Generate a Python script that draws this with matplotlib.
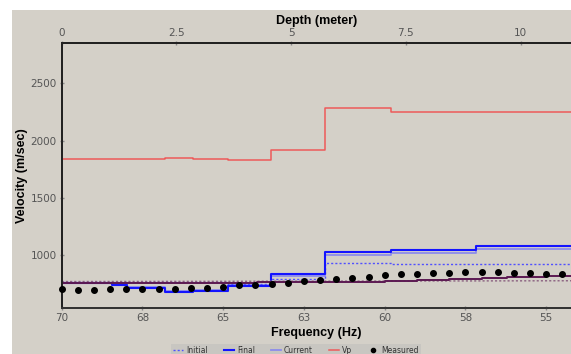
import matplotlib
matplotlib.use("Agg")
import matplotlib.pyplot as plt
from matplotlib.patches import Rectangle
from matplotlib.lines import Line2D

# ---------------- data ----------------
# layer boundaries (depth, m) and layer values (m/sec)
layer_tops = [0.0, 1.09, 1.42, 2.26, 2.87, 3.63, 4.56, 5.73, 7.18, 9.03]
depth_end = 11.10
vp_vals = [1840, 1840, 1840, 1848, 1840, 1829, 1919, 2285, 2250, 2250]
final_vals = [758, 738, 715, 680, 688, 727, 834, 1023, 1044, 1081]
current_vals = [752, 745, 720, 688, 694, 742, 817, 1000, 1017, 1050]
initial_vals = [765, 765, 765, 765, 765, 750, 790, 933, 920, 920]

# measured dispersion (frequency Hz, velocity m/sec)
meas_freq = [70.0, 69.5, 69.0, 68.5, 68.0, 67.5, 67.0, 66.5, 66.0, 65.5, 65.0,
             64.5, 64.0, 63.5, 63.0, 62.5, 62.0, 61.5, 61.0, 60.5, 60.0, 59.5,
             59.0, 58.5, 58.0, 57.5, 57.0, 56.5, 56.0, 55.5, 55.0, 54.5]
meas_vel = [701, 692, 692, 701, 701, 701, 706, 703, 712, 715, 723,
            734, 738, 750, 758, 771, 779, 791, 802, 811, 823, 832,
            837, 843, 843, 849, 849, 849, 840, 840, 834, 834]

# theoretical curves (frequency, velocity)
fit_freq = [70.0, 63.96, 60.0, 59.0, 58.0, 57.0, 56.2, 55.0, 54.23]
fit_vel = [753, 766, 776, 782, 788, 796, 805, 815, 815]
init_curve_freq = [70.0, 54.23]
init_curve_vel = [768, 775]

freq_lim = (70.0, 54.23)
vel_lim = (537, 2852)
freq_ticks = [70, 67.5, 65, 62.5, 60, 57.5, 55]
freq_labels = ["70", "68", "65", "63", "60", "58", "55"]
depth_ticks = [0, 2.5, 5, 7.5, 10]
depth_labels = ["0", "2.5", "5", "7.5", "10"]
vel_ticks = [1000, 1500, 2000, 2500]

# ---------------- figure ----------------
W, H = 571, 354
fig = plt.figure(figsize=(W / 100, H / 100), dpi=100)
fig.patch.set_facecolor("white")
bg = "#d4d0c8"
fig.patches.append(Rectangle((12 / W, 0), 1 - 12 / W, (H - 10) / H,
                             transform=fig.transFigure, facecolor=bg,
                             edgecolor="none", zorder=-10))

L, R, T, B = 61.7, 571, 43, 308
ax = fig.add_axes([L / W, 1 - B / H, (R - L) / W, (B - T) / H])
axd = ax.twiny()

tick_col = "#555555"
font = "DejaVu Sans"
bold_font = "Liberation Sans"

# frequency axis (bottom)
ax.set_xlim(*freq_lim)
ax.set_ylim(*vel_lim)
ax.set_xticks(freq_ticks)
ax.set_xticklabels(freq_labels)
ax.set_yticks(vel_ticks)
ax.set_yticklabels([str(v) for v in vel_ticks])
ax.tick_params(axis="both", colors="#888888", labelcolor=tick_col,
               labelsize=7.5, length=3, width=1, direction="inout", pad=2)
ax.set_xlabel("Frequency (Hz)", fontsize=9, fontweight="bold",
              family=bold_font, labelpad=3)
ax.set_ylabel("Velocity (m/sec)", fontsize=9, fontweight="bold",
              family=bold_font, labelpad=2)

# depth axis (top)
axd.set_xlim(0, depth_end)
axd.set_xticks(depth_ticks)
axd.set_xticklabels(depth_labels)
axd.tick_params(axis="x", colors="#888888", labelcolor=tick_col,
                labelsize=7.5, length=3, width=1, direction="inout", pad=2)
axd.set_xlabel("Depth (meter)", fontsize=9, fontweight="bold",
               family=bold_font, labelpad=3)

for a in (ax, axd):
    a.spines["right"].set_visible(False)
    a.spines["left"].set_color("#222222")
    a.spines["left"].set_linewidth(1.4)
    a.spines["top"].set_color("#222222")
    a.spines["top"].set_linewidth(1.4)
    a.spines["bottom"].set_color("#333333")
    a.spines["bottom"].set_linewidth(1.4)


def steps(vals):
    xs = list(layer_tops) + [depth_end]
    ys = list(vals) + [vals[-1]]
    return xs, ys


c_vp = "#ee5a5a"
c_final = "#1414ff"
c_current = "#8c8cec"
c_initial = "#5050ff"
c_fit = "#5c1a52"
c_fit_init = "#8a6080"

x, y = steps(current_vals)
axd.plot(x, y, drawstyle="steps-post", color=c_current, lw=1.3, zorder=3)
x, y = steps(initial_vals)
axd.plot(x, y, drawstyle="steps-post", color=c_initial, lw=1.0,
         linestyle=(0, (1.5, 1.5)), zorder=3)
x, y = steps(final_vals)
axd.plot(x, y, drawstyle="steps-post", color=c_final, lw=1.5, zorder=4)
x, y = steps(vp_vals)
axd.plot(x, y, drawstyle="steps-post", color=c_vp, lw=1.1, zorder=3)

ax.plot(init_curve_freq, init_curve_vel, color=c_fit_init, lw=1.0,
        linestyle=(0, (1.5, 1.5)), zorder=2)
ax.plot(fit_freq, fit_vel, drawstyle="steps-post", color=c_fit, lw=1.4,
        zorder=2)
ax.plot(meas_freq, meas_vel, linestyle="none", marker="o", ms=4.0,
        color="black", zorder=5, clip_on=False)

# draw order: depth axes (with background) below, frequency axes on top
axd.set_zorder(1)
ax.set_zorder(2)
axd.patch.set_facecolor(bg)
ax.patch.set_visible(False)

# legend
handles = [
    Line2D([], [], color=c_initial, lw=1.0, linestyle=(0, (1.5, 1.5))),
    Line2D([], [], color=c_final, lw=1.5),
    Line2D([], [], color=c_current, lw=1.3),
    Line2D([], [], color=c_vp, lw=1.1),
    Line2D([], [], color="black", marker="o", ms=3, linestyle="none"),
]
labels = ["Initial", "Final", "Current", "Vp", "Measured"]
leg = fig.legend(handles, labels, loc="upper center", ncol=5,
                 bbox_to_anchor=(296 / W, 1 - 344 / H), fontsize=5.5,
                 frameon=True, fancybox=False, handlelength=1.3,
                 handletextpad=0.4, columnspacing=2.1, borderpad=0.25,
                 borderaxespad=0)
leg.get_frame().set_facecolor("#c6c4c0")
leg.get_frame().set_edgecolor("none")
leg.set_zorder(5)
for t in leg.get_texts():
    t.set_color("#333333")

fig.savefig("out.png", dpi=100, facecolor=fig.get_facecolor())
